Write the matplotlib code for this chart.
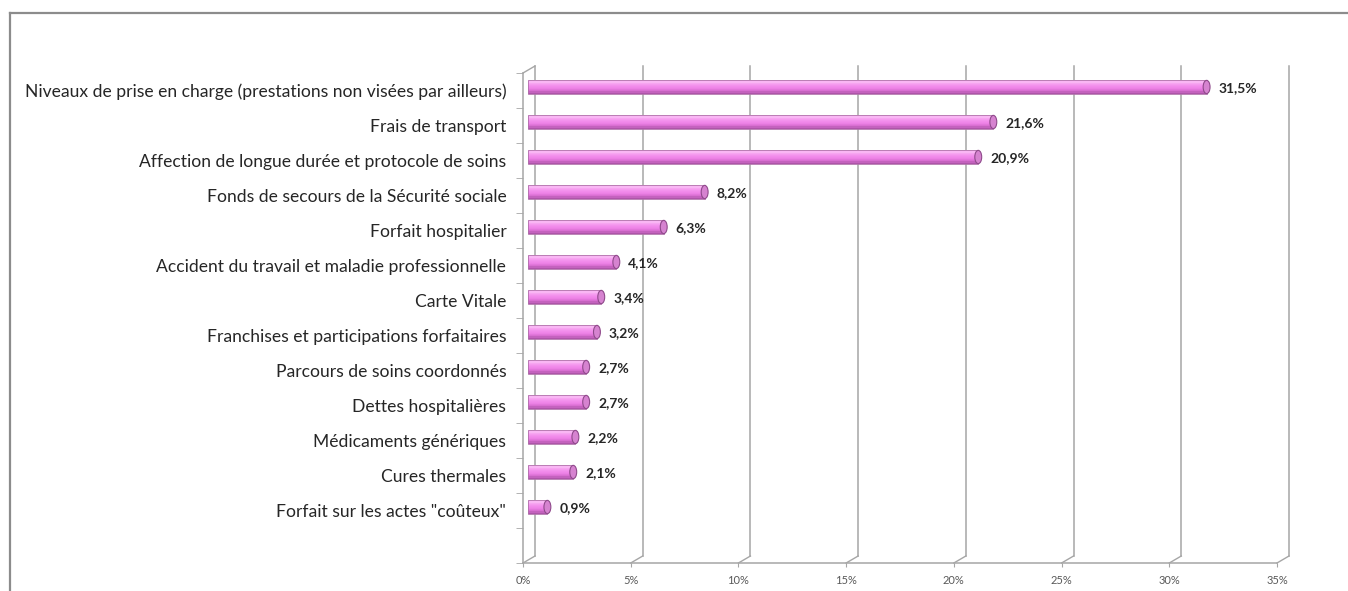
import matplotlib
matplotlib.use("Agg")
import matplotlib.pyplot as plt
import numpy as np
from matplotlib.transforms import ScaledTranslation
from matplotlib.patches import Ellipse
from matplotlib.lines import Line2D
from matplotlib.colors import to_rgb

# --- data -------------------------------------------------------------
categories = [
    "Niveaux de prise en charge (prestations non visées par ailleurs)",
    "Frais de transport",
    "Affection de longue durée et protocole de soins",
    "Fonds de secours de la Sécurité sociale",
    "Forfait hospitalier",
    "Accident du travail et maladie professionnelle",
    "Carte Vitale",
    "Franchises et participations forfaitaires",
    "Parcours de soins coordonnés",
    "Dettes hospitalières",
    "Médicaments génériques",
    "Cures thermales",
    "Forfait sur les actes \"coûteux\"",
]
values = [31.5, 21.6, 20.9, 8.2, 6.3, 4.1, 3.4, 3.2, 2.7, 2.7, 2.2, 2.1, 0.9]
x_ticks = [0, 5, 10, 15, 20, 25, 30, 35]
x_tick_labels = ["0%", "5%", "10%", "15%", "20%", "25%", "30%", "35%"]

# --- figure -----------------------------------------------------------
W, H = 1348, 591
DPI = 100
fig = plt.figure(figsize=(W / DPI, H / DPI), dpi=DPI)
fig.patch.set_facecolor("white")

# outer frame (top and left edges)
fig.add_artist(Line2D([10 / W, 10 / W], [0, 1 - 13 / H], transform=fig.transFigure,
                      color="#8c8c8c", lw=1.6))
fig.add_artist(Line2D([10 / W, 1], [1 - 13 / H, 1 - 13 / H], transform=fig.transFigure,
                      color="#8c8c8c", lw=1.6))

ax = fig.add_axes([523 / W, 1 - 563 / H, (1277 - 523) / W, (563 - 73) / H])
n = len(categories)
ypos = np.arange(n, 0, -1)          # top category highest, one empty slot at bottom
ax.set_xlim(0, 35)
ax.set_ylim(-0.5, n + 0.5)

# depth offsets used for the pseudo-3D look
back = ax.transData + ScaledTranslation(12 / DPI, 7 / DPI, fig.dpi_scale_trans)
mid = ax.transData + ScaledTranslation(5 / DPI, 3.5 / DPI, fig.dpi_scale_trans)

grid_c = "#a6a6a6"
y0, y1 = -0.5, n + 0.5

# back wall gridlines
for t in x_ticks:
    ax.plot([t, t], [y0, y1], transform=back, color=grid_c, lw=1.1, clip_on=False, zorder=1)

# floor diagonals and left side-wall diagonals (front -> back)
def depth_line(x, y, **kw):
    p0 = ax.transData.transform((x, y))
    p1 = back.transform((x, y))
    ax.add_line(Line2D([p0[0], p1[0]], [p0[1], p1[1]], transform=None,
                       clip_on=False, **kw))

for t in x_ticks:
    depth_line(t, y0, color=grid_c, lw=1.0, zorder=1)
depth_line(0, y1, color=grid_c, lw=1.0, zorder=1)

# front axis lines
for s in ("top", "right"):
    ax.spines[s].set_visible(False)
for s in ("left", "bottom"):
    ax.spines[s].set_color(grid_c)
    ax.spines[s].set_linewidth(1.1)
ax.set_facecolor("none")

ax.set_xticks(x_ticks, labels=x_tick_labels)
ax.tick_params(axis="x", length=3, color=grid_c, pad=6, labelsize=8, labelcolor="#595959")
ax.set_yticks(ypos, labels=categories)
ax.set_yticks(np.arange(-0.5, n + 0.6, 1), minor=True)
ax.tick_params(axis="y", which="major", length=0, pad=12, labelsize=12.6, labelcolor="#262626")
ax.tick_params(axis="y", which="minor", length=5, color=grid_c)
for lbl in ax.get_yticklabels():
    lbl.set_fontfamily("Lato")
for lbl in ax.get_xticklabels():
    lbl.set_fontfamily("Lato")

# --- bars with a vertical shading gradient -------------------------------
h = 0.38
stops = ["#fbd0f8", "#f7a6f1", "#f28fec", "#ee82e7", "#d86ed1", "#a34f9e"]
strips = 12
stop_rgb = np.array([to_rgb(c) for c in stops])
pos = np.linspace(0, 1, len(stops))
for k in range(strips):
    f = (k + 0.5) / strips
    col = [np.interp(f, pos, stop_rgb[:, j]) for j in range(3)]
    top = ypos + h / 2 - k * h / strips
    ax.barh(top - h / strips / 2, values, height=h / strips * 1.05, left=0,
            color=col, linewidth=0, transform=mid, zorder=3)

ax.barh(ypos, values, height=h, left=0, facecolor="none", edgecolor="#b070aa",
        linewidth=0.6, transform=mid, zorder=4)

# rounded end caps
for v, y in zip(values, ypos):
    ax.add_patch(Ellipse((v, y), width=0.32, height=h, facecolor="#d683d0",
                         edgecolor="#8f4a8b", linewidth=0.8, transform=mid, zorder=5))

# value labels
for v, y in zip(values, ypos):
    ax.annotate(f"{v:.1f}%".replace(".", ","), xy=(v, y), xycoords=mid,
                xytext=(12, -1), textcoords="offset pixels", ha="left", va="center",
                fontsize=10, fontweight="bold", color="#262626", fontfamily="Lato",
                zorder=6)

fig.savefig("out.png", dpi=DPI, facecolor="white")
